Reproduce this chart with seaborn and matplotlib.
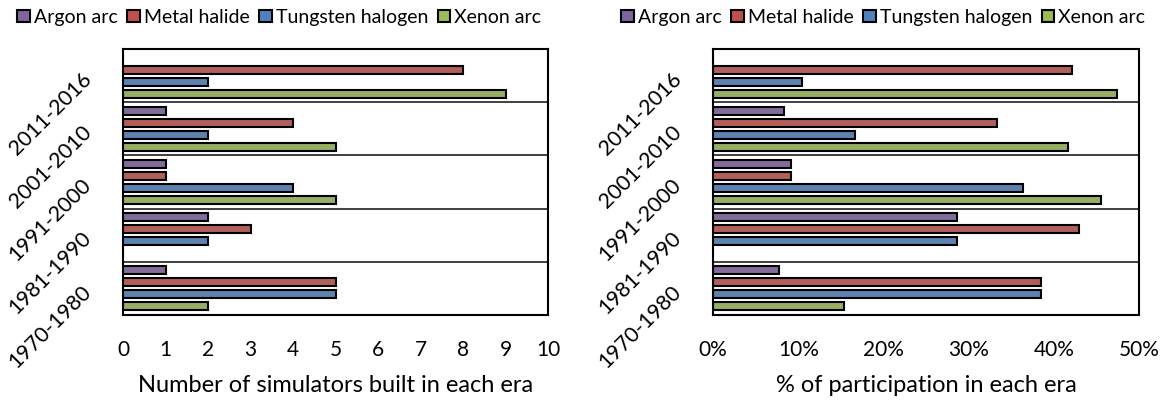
import seaborn as sns
import matplotlib.pyplot as plt
import pandas as pd
from matplotlib.patches import Patch
from matplotlib.ticker import FuncFormatter

eras = ['2011-2016', '2001-2010', '1991-2000', '1981-1990', '1970-1980']
lamps = ['Argon arc', 'Metal halide', 'Tungsten halogen', 'Xenon arc']

# counts per era (same order as eras)
argon = [0, 1, 1, 2, 1]
metal = [8, 4, 1, 3, 5]
tungsten = [2, 2, 4, 2, 5]
xenon = [9, 5, 5, 0, 2]

# share in each era, %
argon_pct = [0, 8.3, 9.1, 28.6, 7.7]
metal_pct = [42.1, 33.3, 9.1, 42.9, 38.5]
tungsten_pct = [10.5, 16.7, 36.4, 28.6, 38.5]
xenon_pct = [47.4, 41.7, 45.5, 0, 15.4]

colors = {'Argon arc': '#8064A2', 'Metal halide': '#C0504D',
          'Tungsten halogen': '#4F81BD', 'Xenon arc': '#9BBB59'}

def long_table(series):
    rows = []
    for lamp, vals in zip(lamps, series):
        for era, v in zip(eras, vals):
            rows.append({'era': era, 'lamp': lamp, 'value': v})
    return pd.DataFrame(rows)

df_count = long_table([argon, metal, tungsten, xenon])
df_pct = long_table([argon_pct, metal_pct, tungsten_pct, xenon_pct])

sns.set_style('white')
plt.rcParams['font.family'] = ['Lato', 'DejaVu Sans']
plt.rcParams['text.color'] = 'black'
plt.rcParams['axes.labelcolor'] = 'black'
plt.rcParams['xtick.color'] = 'black'
plt.rcParams['ytick.color'] = 'black'

fig = plt.figure(figsize=(11.66, 4.03), dpi=100)
ax1 = fig.add_axes([0.1055, 0.2184, 0.3645, 0.660])
ax2 = fig.add_axes([0.6115, 0.2184, 0.3654, 0.660])


def draw(ax, df, xmax, step, xlabel, pct=False):
    sns.barplot(data=df, x='value', y='era', hue='lamp', order=eras, hue_order=lamps,
                palette=colors, orient='h', width=0.9, gap=0.33,
                edgecolor='black', linewidth=1.5, ax=ax, legend=False)
    ax.set_xlim(0, xmax)
    ax.set_ylim(4.5, -0.5)
    ax.set_xticks(range(0, xmax + 1, step))
    if pct:
        ax.xaxis.set_major_formatter(FuncFormatter(lambda v, p: f'{int(v)}%'))
    ax.set_xlabel(xlabel, fontsize=17, labelpad=11)
    ax.set_ylabel('')
    # era labels at group centres, tick marks at group edges
    ax.set_yticks(range(len(eras)))
    ax.set_yticklabels(eras, rotation=45, ha='right', va='center',
                       rotation_mode='anchor', fontsize=15.5)
    ax.set_yticks([i - 0.5 for i in range(len(eras) + 1)], minor=True)
    ax.tick_params(axis='y', which='major', length=0, pad=25)
    ax.tick_params(axis='y', which='minor', length=5, width=1.5, color='black', direction='out')
    ax.tick_params(axis='x', length=5, width=1.5, color='black', direction='out',
                   labelsize=15, pad=13)
    ax.yaxis.grid(True, which='minor', color='#303030', linewidth=1.3)
    ax.set_axisbelow(True)
    for s in ax.spines.values():
        s.set_visible(True)
        s.set_color('black')
        s.set_linewidth(1.5)


draw(ax1, df_count, 10, 1, 'Number of simulators built in each era')
draw(ax2, df_pct, 50, 10, '% of participation in each era', pct=True)

handles = [Patch(facecolor=colors[l], edgecolor='black', linewidth=1.5, label=l) for l in lamps]
for x0 in (0.0146, 0.5326):
    fig.legend(handles=handles, loc='center left', bbox_to_anchor=(x0, 0.957), ncol=4,
               frameon=False, fontsize=14, handlelength=0.65, handleheight=0.65,
               handletextpad=0.2, columnspacing=0.5, borderaxespad=0, borderpad=0)

fig.savefig('out.png', dpi=100)
